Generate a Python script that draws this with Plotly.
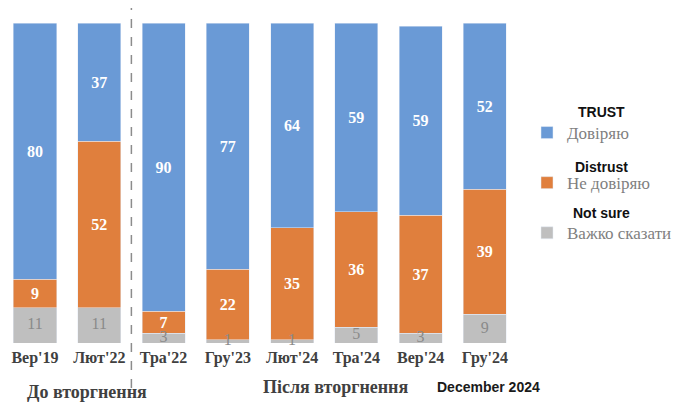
import plotly.graph_objects as go

categories = ["Вер'19", "Лют'22", "Тра'22", "Гру'23", "Лют'24", "Тра'24", "Вер'24", "Гру'24"]
trust = [80, 37, 90, 77, 64, 59, 59, 52]
distrust = [9, 52, 7, 22, 35, 36, 37, 39]
not_sure = [11, 11, 3, 1, 1, 5, 3, 9]

series_names = ["Довіряю", "Не довіряю", "Важко сказати"]
series_headers = ["TRUST", "Distrust", "Not sure"]
colors = ["#6A9AD6", "#E07F3D", "#BFBFBF"]

group_labels = ["До вторгнення", "Після вторгнення"]
extra_label = "December 2024"

SERIF = "Liberation Serif, Times New Roman, serif"
SANS = "Liberation Sans, Arial, sans-serif"

# page has an 8px body margin; figure sized to fill the remaining window
OFF = 8
W, H = 682 - OFF, 404 - OFF
L, T = 0, 15
PW, PH = 509, 320
R, B = W - L - PW, H - T - PH


def px_x(s):  # screen px -> paper x
    return (s - OFF - L) / PW


def px_y(s):  # screen px -> paper y
    return (T + PH + OFF - s) / PH


fig = go.Figure()

# stacked from bottom: not sure, distrust, trust
fig.add_trace(go.Bar(
    x=categories, y=not_sure, name=series_names[2], marker_color=colors[2],
    legendgroup="c", legendrank=3, hoverinfo="skip", textposition="none",
))
fig.add_trace(go.Bar(
    x=categories, y=distrust, name=series_names[1], marker_color=colors[1],
    legendgroup="b", legendrank=2,
    text=[str(v) for v in distrust], textposition="inside", insidetextanchor="middle",
    textfont=dict(family=SERIF, size=16, color="white", weight="bold"),
    constraintext="none", textangle=0, hoverinfo="skip",
))
fig.add_trace(go.Bar(
    x=categories, y=trust, name=series_names[0], marker_color=colors[0],
    legendgroup="a", legendrank=1,
    text=[str(v) for v in trust], textposition="inside", insidetextanchor="middle",
    textfont=dict(family=SERIF, size=16, color="white", weight="bold"),
    constraintext="none", textangle=0, hoverinfo="skip",
))
# gray labels (may overflow small segments)
fig.add_trace(go.Scatter(
    x=categories, y=[v / 2 for v in not_sure], mode="text",
    text=[str(v) for v in not_sure],
    textfont=dict(family=SERIF, size=16, color="#8A8A8A"),
    showlegend=False, hoverinfo="skip", cliponaxis=False,
))

fig.update_layout(
    barmode="stack",
    bargap=0.33,
    width=W, height=H,
    margin=dict(l=L, r=R, t=T, b=B, autoexpand=False),
    paper_bgcolor="white", plot_bgcolor="white",
    showlegend=True,
    legend=dict(
        xref="container", yref="container",
        x=(566 - 39 - OFF) / W, xanchor="left", y=1 - (115 - OFF) / H, yanchor="top",
        traceorder="grouped", tracegroupgap=25,
        font=dict(family=SERIF, size=17, color="#7F7F7F"),
        itemwidth=30, bgcolor="rgba(0,0,0,0)",
    ),
    xaxis=dict(
        type="category", range=[-0.42, 7.5], showgrid=False, showline=False, ticks="",
        zeroline=False, automargin=False, ticklabelstandoff=3,
        tickfont=dict(family=SERIF, size=16, color="#404040", weight="bold"),
    ),
    yaxis=dict(range=[0, 100], visible=False, showgrid=False, automargin=False),
)

# dashed separator
fig.add_shape(type="line", xref="x", yref="paper", x0=1.5, x1=1.5, y0=px_y(388), y1=px_y(8),
              line=dict(color="#8C8C8C", width=1.5, dash="dash"))

# group labels
fig.add_annotation(text=group_labels[0], xref="x", yref="paper", x=0.81, y=px_y(392),
                   showarrow=False, xanchor="center", yanchor="middle",
                   font=dict(family=SERIF, size=18, color="#404040", weight="bold"))
fig.add_annotation(text=group_labels[1], xref="x", yref="paper", x=4.68, y=px_y(387),
                   showarrow=False, xanchor="center", yanchor="middle",
                   font=dict(family=SERIF, size=18, color="#404040", weight="bold"))
fig.add_annotation(text=extra_label, xref="x", yref="paper", x=7.05, y=px_y(387),
                   showarrow=False, xanchor="center", yanchor="middle",
                   font=dict(family=SANS, size=14, color="#1A1A1A", weight="bold"))

# legend headers
header_y_px = [112, 167, 213]
for h, ypx in zip(series_headers, header_y_px):
    fig.add_annotation(text=h, xref="paper", yref="paper", x=px_x(601),
                       y=px_y(ypx), showarrow=False, xanchor="center", yanchor="middle",
                       font=dict(family=SANS, size=14, color="#111111", weight="bold"))

fig.write_html("out.html")
